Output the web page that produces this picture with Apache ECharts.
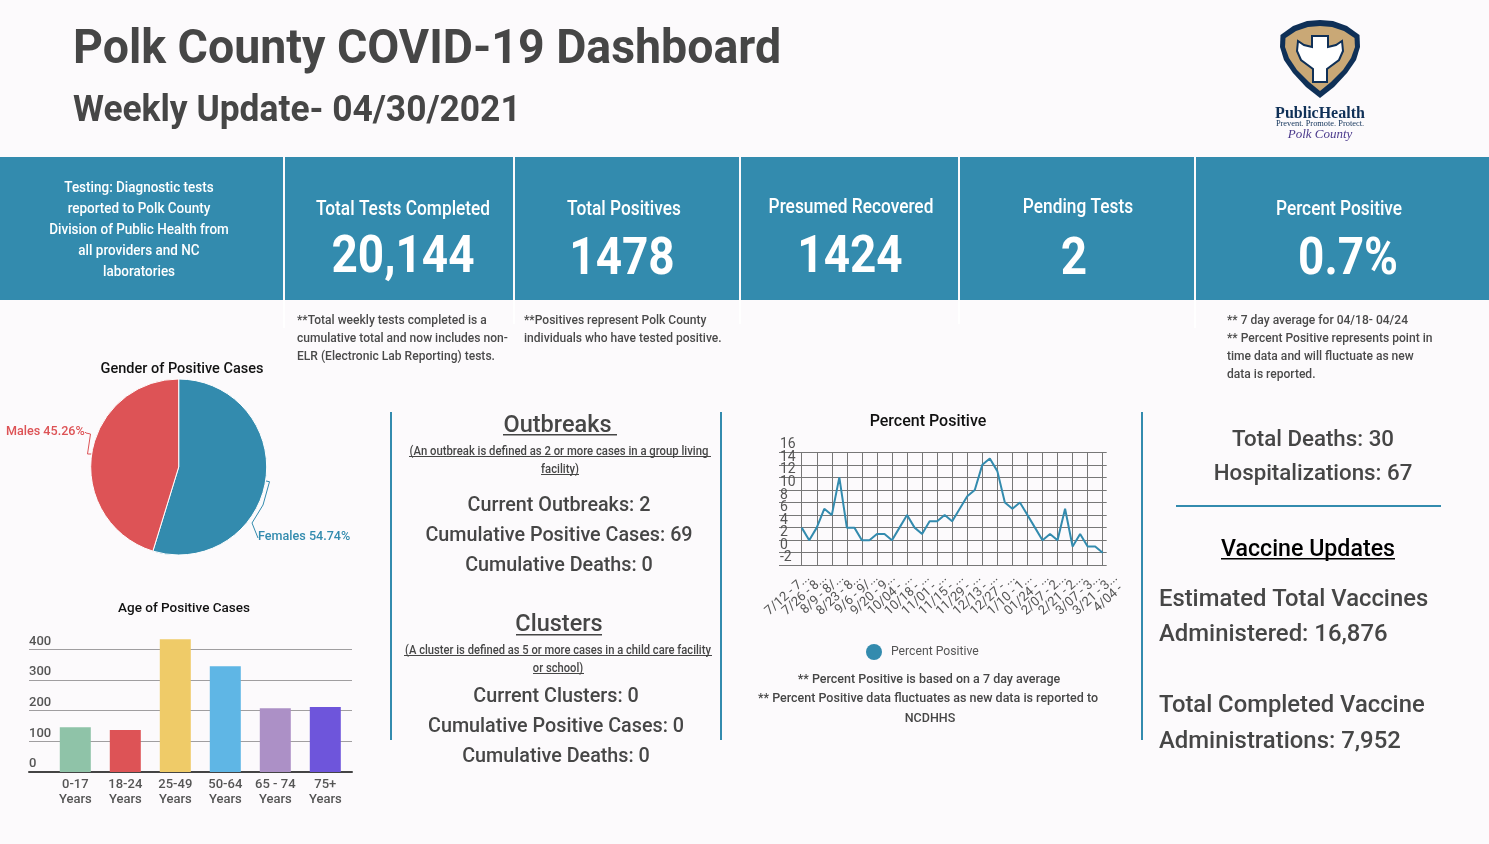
<!DOCTYPE html>
<html><head><meta charset="utf-8">
<style>html,body{margin:0;padding:0;background:#fcfafc}#c{width:1489px;height:844px}</style>
<script src="https://cdn.jsdelivr.net/npm/echarts@6/dist/echarts.min.js"></script>
</head><body><div id="c"></div>
<script>
var genderNames = ['Females', 'Males'];
var genderValues = [54.74, 45.26];
var ageLabels = ['0-17\nYears', '18-24\nYears', '25-49\nYears', '50-64\nYears', '65 - 74\nYears', '75+\nYears'];
var ageValues = [146, 137, 433, 345, 208, 212];
var ageColors = ['#8FC3A8', '#DD5356', '#EFCB68', '#5FB6E5', '#AC90C6', '#6E55DB'];
var weekLabels = ['7/12 - 7...', '7/26 - 8...', '8/9 - 8/...', '8/23 - 8...', '9/6 - 9/...', '9/20 - 9...', '10/04 - ...', '10/18 - ...', '11/01 - ...', '11/15 - ...', '11/29 - ...', '12/13 - ...', '12/27 - ...', '1/10 - 1...', '01/24 - ...', '2/07 - 2...', '2/21 - 2...', '3/07 - 3...', '3/21 - 3...', '4/04 -\u00a0\u00a0\u00a0\u00a0\u00a0'];
var percentPositive = [4,2,4,7,6,12,4,4,2,2,3,3,2,4,6,4,3,5,5,6,5,7,9,10,14,15,13,8,7,8,6,4,2,3,2,7,1,3,1,1,0];
var weekIndex = percentPositive.map(function(v,i){return String(i);});

var TEAL = '#338BAE', DARK = '#464646', FONT = 'Roboto';
var g = [];
function T(text, x, y, size, o) {
  o = o || {};
  g.push({type:'text', x:x, y:y+2, scaleX:o.sx||1, z:10, silent:true, style:{
    text:text, fill:o.fill||DARK, textAlign:o.align||'center', textVerticalAlign:'middle',
    font:(o.weight||'500')+' '+size+'px '+FONT }});
}
function R(x,y,w,h,fill,z){ g.push({type:'rect', silent:true, z:z||1, shape:{x:x,y:y,width:w,height:h}, style:{fill:fill}}); }

// banner
[[0,283],[285,513],[515,739],[741,958],[960,1194],[1196,1489]].forEach(function(b){ R(b[0],157,b[1]-b[0],143,TEAL); });
[[284,328],[514,324],[740,324],[959,324],[1195,328]].forEach(function(s){ R(s[0]-1,300,2,s[1]-300,'#ffffff'); });

T('Polk County COVID-19 Dashboard',73,49,48,{align:'left',weight:'bold',sx:0.968});
T('Weekly Update- 04/30/2021',73,110,36,{align:'left',weight:'bold',sx:0.982});

var bannerNote=['Testing: Diagnostic tests','reported to Polk County','Division of Public Health from','all providers and NC','laboratories'];
bannerNote.forEach(function(s,i){ T(s,139,186+i*21,14.5,{fill:'#fff',sx:0.93}); });
var W={fill:'#fff',sx:0.865}, N={fill:'#fff',weight:'bold',sx:0.9};
T('Total Tests Completed',403,208,20,W); T('20,144',403,257,51,N);
T('Total Positives',624,208,20,W); T('1478',622,259,51,N);
T('Presumed Recovered',851,206,20,W); T('1424',850,257,51,N);
T('Pending Tests',1078,206,20,W); T('2',1074,259,51,N);
T('Percent Positive',1339,208,20,W); T('0.7%',1348,259,51,N);

var A={align:'left',fill:'#4a4a4a',sx:0.965};
['**Total weekly tests completed is a','cumulative total and now includes non-','ELR (Electronic Lab Reporting) tests.'].forEach(function(s,i){T(s,297,319+i*18,12.5,A);});
['**Positives represent Polk County','individuals who have tested positive.'].forEach(function(s,i){T(s,524,319+i*18,12.5,A);});
['** 7 day average for 04/18- 04/24','** Percent Positive represents point in','time data and will fluctuate as new','data is reported.'].forEach(function(s,i){T(s,1227,319+i*18,12.5,A);});

// dividers
R(390,412,2,328,TEAL); R(720,412,2,328,TEAL); R(1141,412,2,328,TEAL); R(1176,505,265,2,TEAL);

// outbreaks
T('Outbreaks',557.5,424,23.5); R(503,434,114,1.5,DARK);
T('(An outbreak is defined as 2 or more cases in a group living',559,450,13,{sx:0.87}); R(409,456,302,1,DARK);
T('facility)',560,468,13,{sx:0.87}); R(541,474,38,1,DARK);
var S=19.75;
T('Current Outbreaks: 2',559,504,S); T('Cumulative Positive Cases: 69',559,534,S); T('Cumulative Deaths: 0',559,564,S);
T('Clusters',559,623,23.5); R(516,634,86,1.5,DARK);
T('(A cluster is defined as 5 or more cases in a child care facility',558,649,13,{sx:0.86}); R(404,655,308,1,DARK);
T('or school)',558,667,13,{sx:0.86}); R(533,673,51,1,DARK);
T('Current Clusters: 0',556,695,S); T('Cumulative Positive Cases: 0',556,725,S); T('Cumulative Deaths: 0',556,755,S);

// percent notes
T('** Percent Positive is based on a 7 day average',929,678,12.5);
T('** Percent Positive data fluctuates as new data is reported to',928,697,12.5);
T('NCDHHS',930,717,12.5);

// right col
T('Total Deaths: 30',1313,438,22.3); T('Hospitalizations: 67',1313,472,22.3);
T('Vaccine Updates',1308,548,23.2,{fill:'#000'}); R(1221,558,174,1.5,'#000');
var V={align:'left'};
T('Estimated Total Vaccines',1159,598,23.8,V); T('Administered: 16,876',1159,633,23.9,V);
T('Total Completed Vaccine',1159,704,23.8,V); T('Administrations: 7,952',1159,740,23.9,V);

// logo
var NAVY='#0F3057';
function P(points,style,z){ g.push({type:'polygon',silent:true,z:z,shape:{points:points,smooth:0},style:style}); }
P([[1320,20],[1333,21],[1347,26],[1359.5,35],[1360,47],[1356,60],[1347,73],[1334,87],[1320,98],[1306,87],[1293,73],[1284,60],[1280,47],[1280.5,35],[1293,26],[1307,21]],{fill:NAVY},5);
P([[1320,26],[1332,27],[1344,31],[1354.5,38],[1355,47],[1351,58],[1343,70],[1331,82],[1320,91],[1309,82],[1297,70],[1289,58],[1285,47],[1285.5,38],[1296,31],[1308,27]],{fill:'#C9A876'},6);
P([[1312,36],[1328,36],[1328,47],[1336,45],[1342,41],[1343,51],[1339,60],[1327,69],[1327,82],[1313,82],[1313,69],[1301,60],[1297,51],[1298,41],[1304,45],[1312,47]],{fill:'#ffffff',stroke:NAVY,lineWidth:2},7);
g.push({type:'text',silent:true,z:7,x:1320,y:114,style:{text:'PublicHealth',font:'bold 16px "Liberation Serif"',fill:NAVY,textAlign:'center',textVerticalAlign:'middle'}});
g.push({type:'text',silent:true,z:7,x:1320,y:124,style:{text:'Prevent. Promote. Protect.',font:'8.4px "Liberation Serif"',fill:NAVY,textAlign:'center',textVerticalAlign:'middle'}});
g.push({type:'text',silent:true,z:7,x:1320,y:135,style:{text:'Polk County',font:'italic 13px "Liberation Serif"',fill:'#4B3A8C',textAlign:'center',textVerticalAlign:'middle'}});

var chart = echarts.init(document.getElementById('c'), null, {renderer:'canvas'});
var tt = function(text,x,y,size){ return {text:text,left:x,top:y,textAlign:'center',padding:0,textStyle:{fontFamily:FONT,fontSize:size,fontWeight:500,color:'#111'}}; };
var AX='#555';
var yLabelAxis = function(idx,min,max){ return {gridIndex:idx,type:'value',min:min,max:max,interval:4,axisLine:{show:false},axisTick:{show:false},splitLine:{show:false},
  axisLabel:{inside:true,margin:1,verticalAlign:'middle',fontSize:14,color:AX,fontFamily:FONT,showMinLabel:true,showMaxLabel:true,hideOverlap:false}}; };
chart.setOption({
  backgroundColor:'#fcfafc',
  animation:false,
  textStyle:{fontFamily:FONT},
  title:[tt('Gender of Positive Cases',182,362,14.5), tt('Age of Positive Cases',184,602,13.5), tt('Percent Positive',928,414,16)],
  legend:{left:861,top:639,icon:'circle',itemWidth:16,itemHeight:16,itemGap:0,data:['Percent Positive'],textStyle:{fontFamily:FONT,fontSize:12.2,color:AX,padding:[0,0,0,4]}},
  grid:[
    {left:801.7,width:301,top:452.3,height:113},
    {left:779,width:327.7,top:452.3,height:113},
    {left:50.3,width:300,top:649.3,height:122.7},
    {left:29,width:323,top:649.3,height:122.7},
    {left:808,width:325,top:452.3,height:113},
    {left:779,width:327.7,top:457.36,height:100.44},
    {left:779,width:327.7,top:444.8,height:100.44}
  ],
  xAxis:[
    {gridIndex:0,type:'category',boundaryGap:false,data:weekIndex,axisLine:{show:false},axisTick:{show:false},axisLabel:{show:false},
     splitLine:{show:true,interval:1,lineStyle:{color:'#777',width:1}}},
    {gridIndex:1,type:'value',min:0,max:1,show:false},
    {gridIndex:2,type:'category',data:ageLabels,axisLine:{show:false},axisTick:{show:false},
     axisLabel:{interval:0,fontSize:13,fontWeight:500,lineHeight:15,color:AX,margin:5,fontFamily:FONT}},
    {gridIndex:3,type:'value',min:0,max:1,splitLine:{show:false},axisLabel:{show:false},axisTick:{show:false},axisLine:{show:true,onZero:false,lineStyle:{color:'#444',width:2}}},
    {gridIndex:4,type:'category',boundaryGap:false,data:weekLabels,axisLine:{show:false},axisTick:{show:false},splitLine:{show:false},
     axisLabel:{interval:0,rotate:42,fontSize:13,color:AX,margin:11,fontFamily:FONT,showMinLabel:true,showMaxLabel:true,hideOverlap:false}},
    {gridIndex:5,type:'value',min:0,max:1,show:false},
    {gridIndex:6,type:'value',min:0,max:1,show:false}
  ],
  yAxis:[
    {gridIndex:0,type:'value',min:-2,max:16,interval:2,show:false},
    {gridIndex:1,type:'value',min:-2,max:16,interval:2,axisLine:{show:false},axisTick:{show:false},axisLabel:{show:false},
     splitLine:{show:true,lineStyle:{color:'#777',width:1}}},
    {gridIndex:2,type:'value',min:0,max:400,interval:100,show:false},
    {gridIndex:3,type:'value',min:0,max:400,interval:100,axisLine:{show:false},axisTick:{show:false},
     axisLabel:{inside:true,margin:0,verticalAlign:'bottom',fontSize:13,fontWeight:500,color:AX,fontFamily:FONT,lineHeight:16,showMinLabel:true,showMaxLabel:true},
     splitLine:{show:true,lineStyle:{color:'#a09ea0',width:1}}},
    {gridIndex:4,type:'value',min:0,max:1,show:false},
    yLabelAxis(5,-2,14),
    yLabelAxis(6,0,16)
  ],
  series:[
    {type:'pie',name:'Gender',center:[178.7,467],radius:[0,88],startAngle:90,clockwise:true,silent:true,
     data:genderNames.map(function(n,i){return {name:n,value:genderValues[i],itemStyle:{color:i===0?TEAL:'#DD5356'}};}),
     itemStyle:{borderColor:'#fff',borderWidth:1},
     label:{show:true,formatter:'{b} {c}%',fontSize:12.6,fontWeight:500,fontFamily:FONT,color:'inherit',overflow:'none'},
     labelLine:{show:true,lineStyle:{width:1}},
     labelLayout:function(p){
       return p.dataIndex===0
        ? {x:258,y:536.5,align:'left',verticalAlign:'middle',labelLinePoints:[[266,481],[269.5,481.7],[263,505],[252,523],[258,538]]}
        : {x:6,y:431.5,align:'left',verticalAlign:'middle',labelLinePoints:[[91.7,454],[87.5,454],[90.5,434],[86,433],[85,432]]};
     }},
    {type:'line',name:'Percent Positive',xAxisIndex:0,yAxisIndex:0,data:percentPositive,symbol:'none',silent:true,
     lineStyle:{color:TEAL,width:2},itemStyle:{color:TEAL}},
    {type:'bar',name:'Age',xAxisIndex:2,yAxisIndex:2,barWidth:31,clip:false,silent:true,
     data:ageValues.map(function(v,i){return {value:v,itemStyle:{color:ageColors[i]}};})}
  ],
  graphic:{elements:g}
});
</script></body></html>
